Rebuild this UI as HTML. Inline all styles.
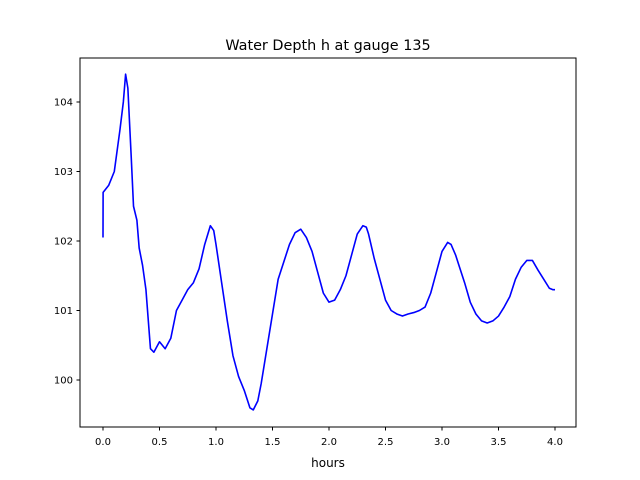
<!DOCTYPE html>
<html><head><meta charset="utf-8"><style>
html,body{margin:0;padding:0;background:#fff;}
svg{display:block;font-family:"DejaVu Sans","Liberation Sans",sans-serif;}
</style></head><body>
<svg id="chart" width="640" height="480" viewBox="0 0 640 480">
<rect width="640" height="480" fill="#fff"/>
<text x="328" y="50" font-size="14.4" text-anchor="middle">Water Depth h at gauge 135</text>
<g id="ticks"></g>
<polyline id="line" fill="none" stroke="#0000ff" stroke-width="1.6" stroke-linejoin="round"/>
<rect x="80" y="58" width="496" height="369" fill="none" stroke="#000" stroke-width="1"/>
<text x="328" y="467" font-size="12" text-anchor="middle">hours</text>
</svg>
<script>
const hours=[0,0.001,0.05,0.1,0.15,0.18,0.2,0.22,0.25,0.27,0.3,0.32,0.35,0.38,0.42,0.45,0.5,0.55,0.6,0.65,0.7,0.75,0.8,0.85,0.9,0.95,0.98,1.0,1.05,1.1,1.15,1.2,1.25,1.3,1.33,1.37,1.4,1.45,1.5,1.55,1.6,1.65,1.7,1.75,1.8,1.85,1.9,1.95,2.0,2.05,2.1,2.15,2.2,2.25,2.3,2.33,2.35,2.4,2.45,2.5,2.55,2.6,2.65,2.7,2.75,2.8,2.85,2.9,2.95,3.0,3.05,3.08,3.12,3.15,3.2,3.25,3.3,3.35,3.4,3.45,3.5,3.55,3.6,3.65,3.7,3.75,3.8,3.85,3.9,3.95,3.98,4.0];
const depth=[102.05,102.7,102.8,103.0,103.6,104.0,104.4,104.2,103.2,102.5,102.3,101.9,101.65,101.3,100.45,100.4,100.55,100.45,100.6,101.0,101.15,101.3,101.4,101.6,101.95,102.22,102.15,101.95,101.4,100.85,100.35,100.05,99.85,99.6,99.57,99.7,99.95,100.45,100.95,101.45,101.7,101.95,102.12,102.17,102.05,101.85,101.55,101.25,101.12,101.15,101.3,101.5,101.8,102.1,102.22,102.2,102.1,101.75,101.45,101.15,101.0,100.95,100.92,100.95,100.97,101.0,101.05,101.25,101.55,101.85,101.98,101.95,101.8,101.65,101.4,101.12,100.95,100.85,100.82,100.85,100.92,101.05,101.2,101.45,101.62,101.72,101.72,101.58,101.45,101.32,101.3,101.3];
const xTicks=[0,0.5,1,1.5,2,2.5,3,3.5,4];
const yTicks=[100,101,102,103,104];
const xs=v=>103+v*113;
const ys=v=>380-(v-100)*69.5;
const ns='http://www.w3.org/2000/svg';
const g=document.getElementById('ticks');
xTicks.forEach(t=>{
 const l=document.createElementNS(ns,'line');
 
 
 l.setAttribute('x1',xs(t));l.setAttribute('x2',xs(t));l.setAttribute('y1',427);l.setAttribute('y2',430.5);l.setAttribute('stroke','#000');
 g.appendChild(l);
 const tx=document.createElementNS(ns,'text');
 
 
 tx.setAttribute('x',xs(t));tx.setAttribute('y',445);tx.setAttribute('font-size','10');tx.setAttribute('text-anchor','middle');
 tx.textContent=t.toFixed(1);g.appendChild(tx);
});
yTicks.forEach(t=>{
 const l=document.createElementNS(ns,'line');
 
 
 l.setAttribute('x1',76.5);l.setAttribute('x2',80);l.setAttribute('y1',ys(t));l.setAttribute('y2',ys(t));l.setAttribute('stroke','#000');
 g.appendChild(l);
 const tx=document.createElementNS(ns,'text');
 
 
 tx.setAttribute('x',73);tx.setAttribute('y',ys(t)+3.5);tx.setAttribute('font-size','10');tx.setAttribute('text-anchor','end');
 tx.textContent=t;g.appendChild(tx);
});
document.getElementById('line').setAttribute('points',hours.map((h,i)=>xs(h)+','+ys(depth[i])).join(' '));
</script>
</body></html>
